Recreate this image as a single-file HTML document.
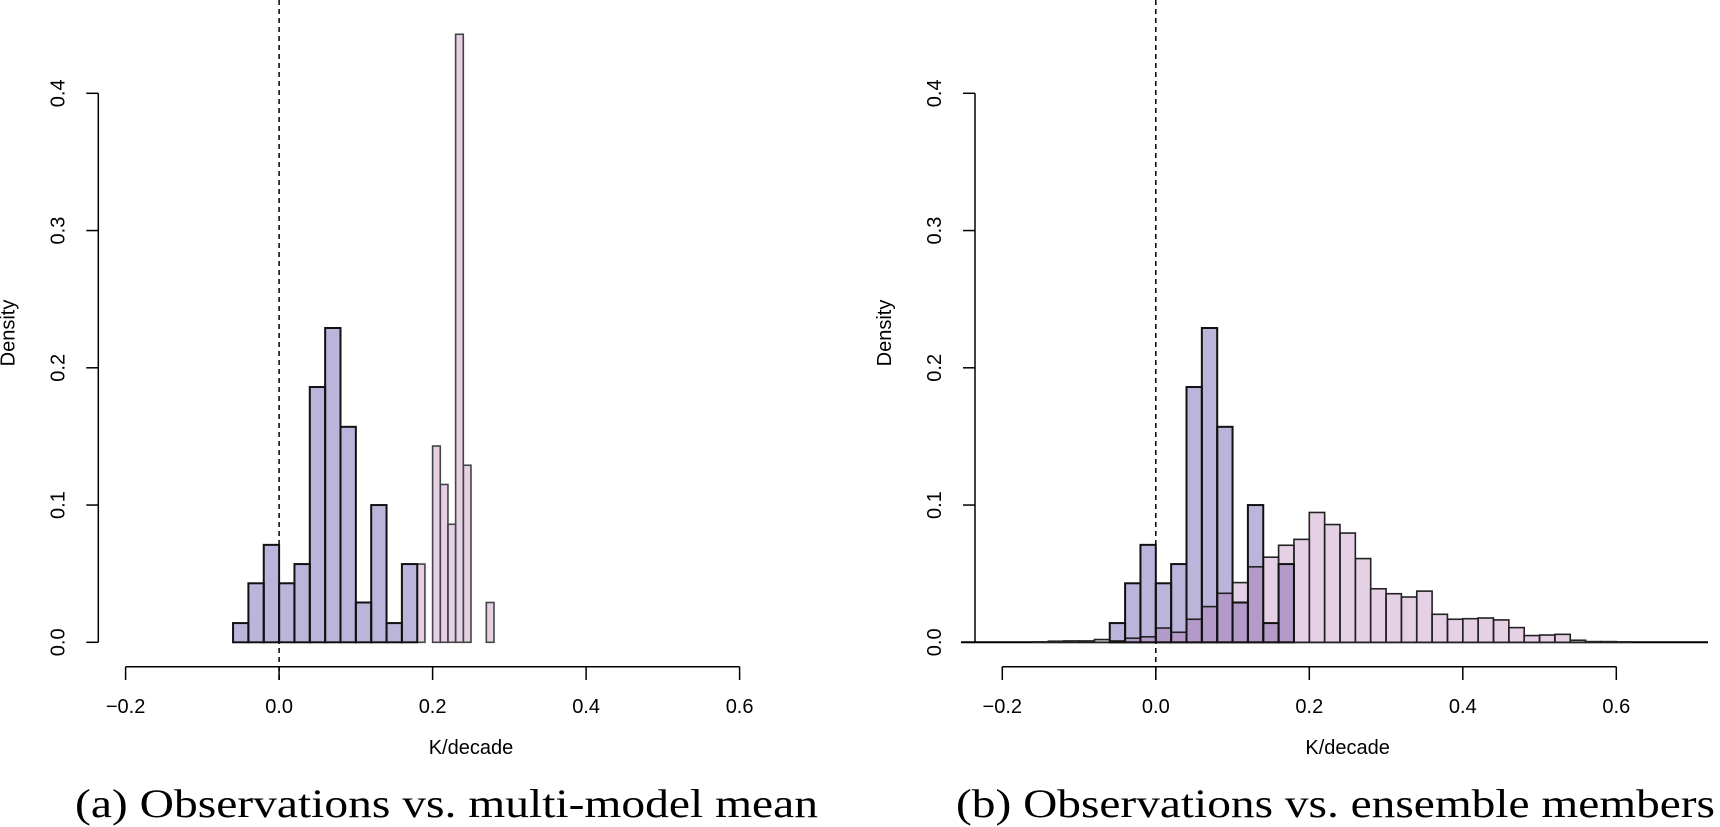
<!DOCTYPE html>
<html><head><meta charset="utf-8"><style>
html,body{margin:0;padding:0;background:#fff;}
svg{display:block;}
</style></head><body>
<svg id="fig" width="1720" height="827" viewBox="0 0 1720 827" xmlns="http://www.w3.org/2000/svg">
<g id="panelA"></g>
<g id="panelB"></g>
<text x="75" y="817" font-family="'Liberation Serif', serif" font-size="40" textLength="743" lengthAdjust="spacingAndGlyphs">(a) Observations vs. multi-model mean</text>
<text x="956" y="817" font-family="'Liberation Serif', serif" font-size="40" textLength="759" lengthAdjust="spacingAndGlyphs">(b) Observations vs. ensemble members</text>
</svg>
<script>
// Observations histogram (bin width 0.02, starting -0.06)
const obsStart = -0.06;
const obsWidth = 0.02;
const obsDensity = [0.014, 0.043, 0.071, 0.043, 0.057, 0.186, 0.229, 0.157, 0.029, 0.100, 0.014, 0.057];
// Multi-model mean histogram (bin width 0.01, starting 0.18)
const mmmStart = 0.18;
const mmmWidth = 0.01;
const mmmDensity = [0.057, 0, 0.143, 0.115, 0.086, 0.443, 0.129, 0, 0, 0.029];
// Ensemble members histogram (bin width 0.02, starting -0.16)
const ensStart = -0.16;
const ensWidth = 0.02;
const ensDensity = [0.0003, 0.0008, 0.001, 0.001, 0.002, 0.001, 0.003, 0.004, 0.0104, 0.0073, 0.0168, 0.026, 0.0357, 0.0435, 0.055, 0.062, 0.0707, 0.075, 0.0946, 0.0858, 0.0796, 0.061, 0.039, 0.0354, 0.033, 0.0373, 0.0204, 0.0168, 0.0172, 0.0177, 0.0163, 0.0107, 0.0049, 0.0053, 0.0058, 0.0015, 0.0005, 0.0005, 0.0003];
const xTicks = [-0.2, 0.0, 0.2, 0.4, 0.6];
const xTickLabels = ["\u22120.2", "0.0", "0.2", "0.4", "0.6"];
const yTicks = [0, 0.1, 0.2, 0.3, 0.4];
const yTickLabels = ["0.0", "0.1", "0.2", "0.3", "0.4"];

const NS = "http://www.w3.org/2000/svg";
const BLUE = "#bbb5dc", PINK = "#e5d0e5", OVER = "#b39ac8";
function el(parent, tag, attrs) {
  const e = document.createElementNS(NS, tag);
  for (const k in attrs) e.setAttribute(k, attrs[k]);
  parent.appendChild(e);
  return e;
}
function makePanel(g, x0, yAxisX, both) {
  const sx = v => x0 + v * 767.5;
  const sy = v => 642.3 - v * 1372.5;
  const yBar = v => sy(v);
  if (both) {
    const bl = el(g, "line", {x1: 961, x2: 1708, y1: 642.3, y2: 642.3, stroke: "#000", "stroke-width": 2});
    
    
  }
  const dz = el(g, "line", {x1: sx(0), x2: sx(0), y1: 0, y2: 680, stroke: "#000", "stroke-width": 1.5, "stroke-dasharray": "5,4"});
  
  
  const pinkData = both ? ensDensity : mmmDensity;
  const pStart = both ? ensStart : mmmStart;
  const pW = both ? ensWidth : mmmWidth;
  pinkData.forEach((d, i) => {
    const a = pStart + i * pW;
    const r = el(g, "rect", {x: sx(a), y: yBar(d), width: sx(a + pW) - sx(a), height: sy(0) - sy(d), fill: PINK, stroke: "none"});
    
    
  });
  obsDensity.forEach((d, i) => {
    const a = obsStart + i * obsWidth;
    const r = el(g, "rect", {x: sx(a), y: yBar(d), width: sx(a + obsWidth) - sx(a), height: sy(0) - sy(d), fill: BLUE, stroke: "none"});
    
    
  });
  if (both) {
    pinkData.forEach((d, i) => {
      const a = pStart + i * pW;
      const j = Math.round((a - obsStart) / obsWidth);
      if (j >= 0 && j < obsDensity.length) {
        const m = Math.min(d, obsDensity[j]);
        const r = el(g, "rect", {x: sx(a), y: yBar(m), width: sx(a + pW) - sx(a), height: sy(0) - sy(m), fill: OVER, stroke: "none"});
        
        
      }
    });
  }
  const outline = (data, start, w, col, sw) => data.forEach((d, i) => {
    if (d <= 0) return;
    const a = start + i * w;
    const r = el(g, "rect", {x: sx(a), y: yBar(d), width: sx(a + w) - sx(a), height: sy(0) - sy(d), fill: "none", stroke: col, "stroke-width": sw});
    
    
  });
  outline(pinkData, pStart, pW, both ? "#222" : "#444", 1.6);
  outline(obsDensity, obsStart, obsWidth, "#111", 2);
  const ya = el(g, "line", {x1: yAxisX, x2: yAxisX, y1: sy(0.4), y2: sy(0), stroke: "#000", "stroke-width": 1.5});
  
  
  yTicks.forEach((t, i) => {
    const tl = el(g, "line", {x1: yAxisX - 12, x2: yAxisX, y1: sy(t), y2: sy(t), stroke: "#000", "stroke-width": 1.5});
    
    
    const tx = el(g, "text", {x: 0, y: 0, transform: `translate(${yAxisX - 40},${sy(t)}) rotate(-90)`, "text-anchor": "middle", "dominant-baseline": "central", "font-family": "'Liberation Sans', sans-serif", "font-size": 20});
    tx.textContent = yTickLabels[i];
    
    
  });
  const xa = el(g, "line", {x1: sx(-0.2), x2: sx(0.6), y1: 666.7, y2: 666.7, stroke: "#000", "stroke-width": 1.5});
  
  
  xTicks.forEach((t, i) => {
    const tl = el(g, "line", {x1: sx(t), x2: sx(t), y1: 666.7, y2: 680, stroke: "#000", "stroke-width": 1.5});
    
    
    const tx = el(g, "text", {x: sx(t), y: 707, "text-anchor": "middle", "dominant-baseline": "central", "font-family": "'Liberation Sans', sans-serif", "font-size": 20});
    tx.textContent = xTickLabels[i];
    
    
  });
  const xt = el(g, "text", {x: sx(0.25), y: 748, "text-anchor": "middle", "dominant-baseline": "central", "font-family": "'Liberation Sans', sans-serif", "font-size": 20});
  xt.textContent = "K/decade";
  
  
  const yt = el(g, "text", {x: 0, y: 0, transform: `translate(${yAxisX - 90},333) rotate(-90)`, "text-anchor": "middle", "dominant-baseline": "central", "font-family": "'Liberation Sans', sans-serif", "font-size": 20});
  yt.textContent = "Density";
  
  
}
makePanel(document.getElementById("panelA"), 279.1, 98.3, false);
makePanel(document.getElementById("panelB"), 1155.8, 975, true);
</script>
</body></html>
